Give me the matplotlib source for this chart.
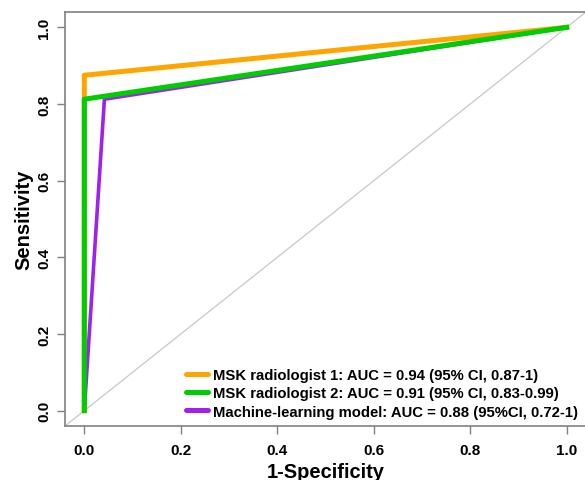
import matplotlib
matplotlib.use("Agg")
import matplotlib.pyplot as plt

plt.rcParams['font.family'] = ['Liberation Sans', 'DejaVu Sans']

# ROC points (1-specificity, sensitivity)
fpr_rad1 = [0.0, 0.0, 1.0]
tpr_rad1 = [0.0, 0.875, 1.0]
fpr_rad2 = [0.0, 0.0, 1.0]
tpr_rad2 = [0.0, 0.8125, 1.0]
fpr_ml = [0.0, 0.0417, 1.0]
tpr_ml = [0.0, 0.8125, 1.0]

labels = [
    "MSK radiologist 1: AUC = 0.94 (95% CI, 0.87-1)",
    "MSK radiologist 2: AUC = 0.91 (95% CI, 0.83-0.99)",
    "Machine-learning model: AUC = 0.88 (95%CI, 0.72-1)",
]
colors = ["#FFA500", "#00CD00", "#A020F0"]
ticks = [0.0, 0.2, 0.4, 0.6, 0.8, 1.0]

fig = plt.figure(figsize=(5.85, 4.81), dpi=100)
ax = fig.add_axes([65/585, 54/481, 521/585, 414/481])

ax.plot([-0.1, 1.1], [-0.1, 1.1], color="#c8c8c8", lw=0.9, zorder=1)
l1, = ax.plot(fpr_rad1, tpr_rad1, color=colors[0], lw=3.6, zorder=2)
l3, = ax.plot(fpr_ml, tpr_ml, color=colors[2], lw=2.6, zorder=3)
l2, = ax.plot(fpr_rad2, tpr_rad2, color=colors[1], lw=3.6, zorder=4)

ax.set_xlim(-0.04, 1.04)
ax.set_ylim(-0.04, 1.04)
ax.set_xticks(ticks)
ax.set_yticks(ticks)
ax.set_xticklabels([f"{t:.1f}" for t in ticks], fontweight="bold", fontsize=11)
ax.set_yticklabels([f"{t:.1f}" for t in ticks], fontweight="bold", fontsize=11,
                   rotation=90, va="center")
for s in ax.spines.values():
    s.set_color("#808080")
    s.set_linewidth(1.2)
ax.tick_params(direction="out", length=6, width=1, color="#808080", pad=6)
ax.tick_params(axis="y", pad=4)

ax.set_xlabel("1-Specificity", fontsize=14.5, fontweight="bold", labelpad=4)
ax.set_ylabel("Sensitivity", fontsize=14.5, fontweight="bold", labelpad=3)

leg = ax.legend([l1, l2, l3], labels, loc="lower right", frameon=False,
                bbox_to_anchor=(0.985, 0.018), handlelength=1.45, handletextpad=0.35,
                labelspacing=0.28, borderaxespad=0, borderpad=0,
                prop={"weight": "bold", "size": 10.7})
for h in leg.get_lines():
    h.set_linewidth(3.6)
    h.set_solid_capstyle("round")

fig.savefig("out.png", dpi=100)
